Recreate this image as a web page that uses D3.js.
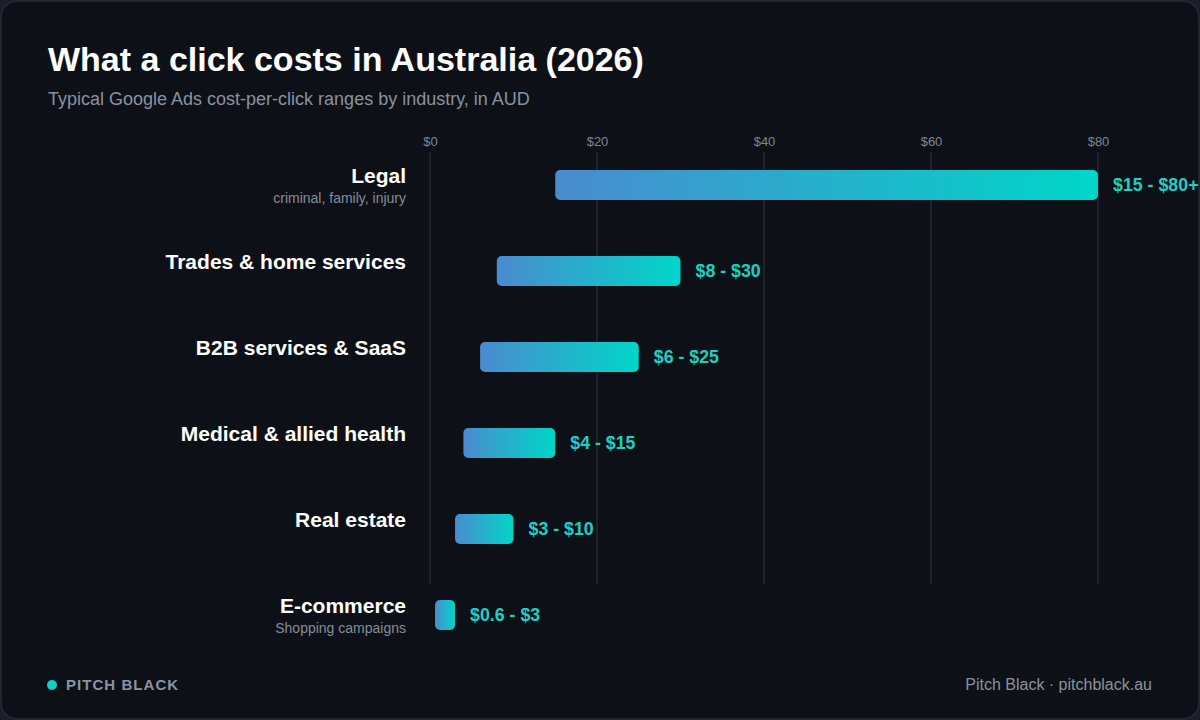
<!DOCTYPE html>
<html>
<head>
<meta charset="utf-8">
<script src="https://cdn.jsdelivr.net/npm/d3@7"></script>
<style>
  html, body { margin: 0; padding: 0; background: #1a1e28; }
  svg { display: block; font-family: "Liberation Sans", Arial, sans-serif; }
</style>
</head>
<body>
<div id="chart"></div>
<script>
  var industries = ["Legal", "Trades & home services", "B2B services & SaaS", "Medical & allied health", "Real estate", "E-commerce"];
  var notes = ["criminal, family, injury", "", "", "", "", "Shopping campaigns"];
  var lowCpc = [15, 8, 6, 4, 3, 0.6];
  var highCpc = [80, 30, 25, 15, 10, 3];
  var rangeLabels = ["$15 - $80+", "$8 - $30", "$6 - $25", "$4 - $15", "$3 - $10", "$0.6 - $3"];
  var tickValues = [0, 20, 40, 60, 80];

  var W = 1200, H = 720;

  var data = industries.map((d, i) => ({
    name: d, note: notes[i], lo: lowCpc[i], hi: highCpc[i], label: rangeLabels[i]
  }));

  var svg = d3.select("#chart").append("svg")
      .attr("width", W)
      .attr("height", H);

  var defs = svg.append("defs");
  var grad = defs.append("linearGradient")
      .attr("id", "barGrad")
      .attr("x1", "0%").attr("x2", "100%")
      .attr("y1", "0%").attr("y2", "0%");
  grad.append("stop").attr("offset", "0%").attr("stop-color", "#4a8bcf");
  grad.append("stop").attr("offset", "100%").attr("stop-color", "#00d6c8");

  // card
  svg.append("rect")
    .attr("x", 1).attr("y", 1)
    .attr("width", W - 2).attr("height", H - 2)
    .attr("rx", 16)
    .attr("fill", "#0d1117")
    .attr("stroke", "#262c38")
    .attr("stroke-width", 1.5);

  svg.append("text")
    .attr("x", 48).attr("y", 71)
    .attr("fill", "#ffffff")
    .attr("font-size", 34)
    .attr("font-weight", "bold")
    .text("What a click costs in Australia (2026)");

  svg.append("text")
    .attr("x", 48).attr("y", 105)
    .attr("fill", "#8a919e")
    .attr("font-size", 18)
    .text("Typical Google Ads cost-per-click ranges by industry, in AUD");

  var x = d3.scaleLinear()
    .domain([0, 80])
    .range([430, 1098]);

  var y = d3.scaleBand()
    .domain(industries)
    .range([142, 658])
    .paddingInner(0.65)
    .paddingOuter(0.325);

  // gridlines + tick labels
  var xAxis = d3.axisTop(x)
    .tickValues(tickValues)
    .tickFormat(d => "$" + d)
    .tickSize(0)
    .tickPadding(0);

  var gx = svg.append("g")
    .attr("transform", "translate(0,146)")
    .call(xAxis);
  gx.select(".domain").remove();
  gx.selectAll("text")
    .attr("fill", "#7d8594")
    .attr("font-size", 13)
    .attr("font-family", "Liberation Sans, Arial, sans-serif");

  svg.append("g").selectAll("line")
    .data(tickValues)
    .enter().append("line")
      .attr("x1", d => x(d)).attr("x2", d => x(d))
      .attr("y1", 152).attr("y2", 584)
      .attr("stroke", "#232935")
      .attr("stroke-width", 1.5);

  var row = svg.append("g").selectAll("g")
    .data(data)
    .enter().append("g")
      .attr("transform", d => `translate(0,${y(d.name) + y.bandwidth() / 2})`);

  row.append("rect")
    .attr("x", d => x(d.lo))
    .attr("y", -15)
    .attr("width", d => x(d.hi) - x(d.lo))
    .attr("height", 30)
    .attr("rx", 5)
    .attr("fill", "url(#barGrad)");

  row.append("text")
    .attr("x", d => x(d.hi) + 15)
    .attr("y", 6)
    .attr("fill", "#17d3c6")
    .attr("font-size", 17.8)
    .attr("font-weight", "bold")
    .text(d => d.label);

  row.append("text")
    .attr("x", 406)
    .attr("y", -2)
    .attr("text-anchor", "end")
    .attr("fill", "#ffffff")
    .attr("font-size", 21)
    .attr("font-weight", "bold")
    .text(d => d.name);

  row.filter(d => d.note).append("text")
    .attr("x", 406)
    .attr("y", 18)
    .attr("text-anchor", "end")
    .attr("fill", "#858c99")
    .attr("font-size", 14)
    .text(d => d.note);

  // footer
  svg.append("circle")
    .attr("cx", 52).attr("cy", 685).attr("r", 5)
    .attr("fill", "#10cfc4");

  svg.append("text")
    .attr("x", 66).attr("y", 690)
    .attr("fill", "#8a93a3")
    .attr("font-size", 15)
    .attr("font-weight", "bold")
    .attr("letter-spacing", 1.05)
    .text("PITCH BLACK");

  svg.append("text")
    .attr("x", 1152).attr("y", 690)
    .attr("text-anchor", "end")
    .attr("fill", "#8a919e")
    .attr("font-size", 16)
    .text("Pitch Black · pitchblack.au");
</script>
</body>
</html>
